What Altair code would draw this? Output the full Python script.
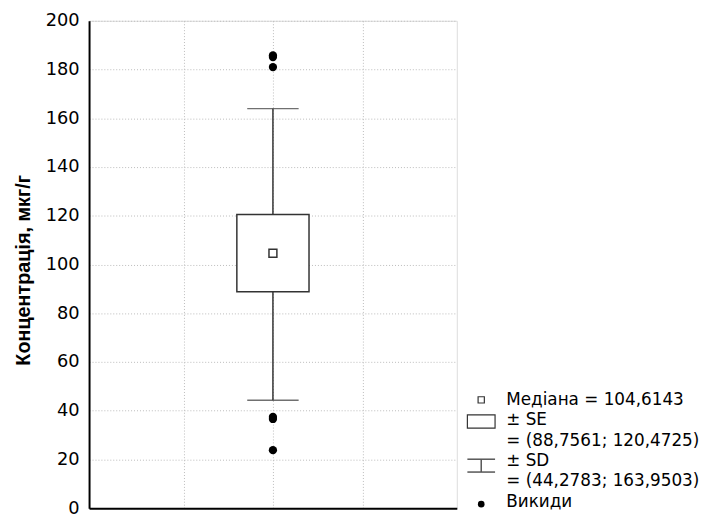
import altair as alt
import pandas as pd

# ---- data ----
median = [104.6143]
se_low, se_high = [88.7561], [120.4725]
sd_low, sd_high = [44.2783], [163.9503]
outliers = [185.8, 185.1, 181.0, 37.4, 36.6, 23.8]
y_ticks = [0, 20, 40, 60, 80, 100, 120, 140, 160, 180, 200]
x_grid = [1, 2, 3]
legend_lines = ["Медіана = 104,6143", "± SE", "= (88,7561; 120,4725)",
                "± SD", "= (44,2783; 163,9503)", "Викиди"]
y_title = "Концентрація, мкг/г"

W, H = 372, 493
FONT = "DejaVu Sans"

box_df = pd.DataFrame({"x": [2], "med": median, "se_lo": se_low, "se_hi": se_high,
                       "sd_lo": sd_low, "sd_hi": sd_high})
out_df = pd.DataFrame({"x": [2] * len(outliers), "v": outliers})

xs = alt.Scale(domain=[0, 4], nice=False, zero=False)
ys = alt.Scale(domain=[0, 200], nice=False)

x_enc = alt.X("x:Q", scale=xs,
              axis=alt.Axis(values=x_grid, labels=False, ticks=False, title=None,
                            grid=True, gridDash=[1, 2], gridColor="#bbbbbb",
                            domainColor="black", domainWidth=2))

base = alt.Chart(box_df)

whisker = base.mark_rule(color="#333333", strokeWidth=1.5).encode(
    x=x_enc,
    y=alt.Y("sd_lo:Q", scale=ys,
            axis=alt.Axis(values=y_ticks, title=y_title, grid=True, gridDash=[1, 2],
                          gridColor="#bbbbbb", ticks=False, labelPadding=10,
                          labelFont=FONT, labelFontSize=18, labelColor="black",
                          titleFont="Liberation Sans", titleFontSize=20,
                          titleFontWeight="bold", titleColor="black",
                          titleAngle=-90, titleAlign="center", titleBaseline="middle",
                          titleX=-66, titleY=252,
                          domainColor="black", domainWidth=2)),
    y2="sd_hi:Q")

cap_lo = base.mark_tick(orient="horizontal", size=52, thickness=1.5, color="#333333").encode(
    x=alt.X("x:Q", scale=xs), y=alt.Y("sd_lo:Q", scale=ys))
cap_hi = base.mark_tick(orient="horizontal", size=52, thickness=1.5, color="#333333").encode(
    x=alt.X("x:Q", scale=xs), y=alt.Y("sd_hi:Q", scale=ys))

box = base.mark_bar(size=73, fill="white", stroke="#333333", strokeWidth=1.5,
                    orient="vertical").encode(
    x=alt.X("x:Q", scale=xs), y=alt.Y("se_lo:Q", scale=ys), y2="se_hi:Q")

med = base.mark_point(shape="square", size=64, filled=False, fill="white",
                      stroke="#333333", strokeWidth=1.5, opacity=1).encode(
    x=alt.X("x:Q", scale=xs), y=alt.Y("med:Q", scale=ys))

outs = alt.Chart(out_df).mark_circle(size=70, color="black", opacity=1).encode(
    x=alt.X("x:Q", scale=xs), y=alt.Y("v:Q", scale=ys))

# ---- legend (drawn beside the plot) ----
LX, LY0, LDY = 422, 383.5, 20.6
one = pd.DataFrame({"k": [0]})
leg_texts = [
    alt.Chart(one).mark_text(align="left", baseline="middle", font=FONT,
                             fontSize=17, color="black", text=line).encode(
        x=alt.value(LX), y=alt.value(LY0 + i * LDY))
    for i, line in enumerate(legend_lines)
]

SX = 396.7
BX0, BX1 = 382.7, 410.7
leg_sq = alt.Chart(one).mark_point(shape="square", size=40, filled=False, stroke="#333333",
                                   strokeWidth=1.2, opacity=1).encode(
    x=alt.value(SX), y=alt.value(LY0))
leg_box = alt.Chart(one).mark_rect(fill="white", stroke="#333333", strokeWidth=1.2).encode(
    x=alt.value(BX0), x2=alt.value(BX1), y=alt.value(398.7), y2=alt.value(412))
leg_w_top = alt.Chart(one).mark_rule(color="#555555", strokeWidth=1.5).encode(
    x=alt.value(BX0), x2=alt.value(BX1), y=alt.value(443.5))
leg_w_bot = alt.Chart(one).mark_rule(color="#555555", strokeWidth=1.5).encode(
    x=alt.value(BX0), x2=alt.value(BX1), y=alt.value(456.5))
leg_w_v = alt.Chart(one).mark_rule(color="#555555", strokeWidth=1.5).encode(
    x=alt.value(SX), y=alt.value(443.5), y2=alt.value(456.5))
leg_dot = alt.Chart(one).mark_circle(size=45, color="black", opacity=1).encode(
    x=alt.value(SX), y=alt.value(489))

chart = alt.layer(whisker, cap_lo, cap_hi, box, med, outs,
                  *leg_texts, leg_sq, leg_box, leg_w_top, leg_w_bot, leg_w_v, leg_dot
                  ).properties(
    width=W, height=H,
    autosize=alt.AutoSizeParams(type="none"),
    padding={"left": 82, "top": 10, "right": 245, "bottom": 4},
).configure_view(stroke="black", strokeWidth=1.5).configure(background="white")

chart.save("out.html", embed_options={"renderer": "svg", "actions": False})
